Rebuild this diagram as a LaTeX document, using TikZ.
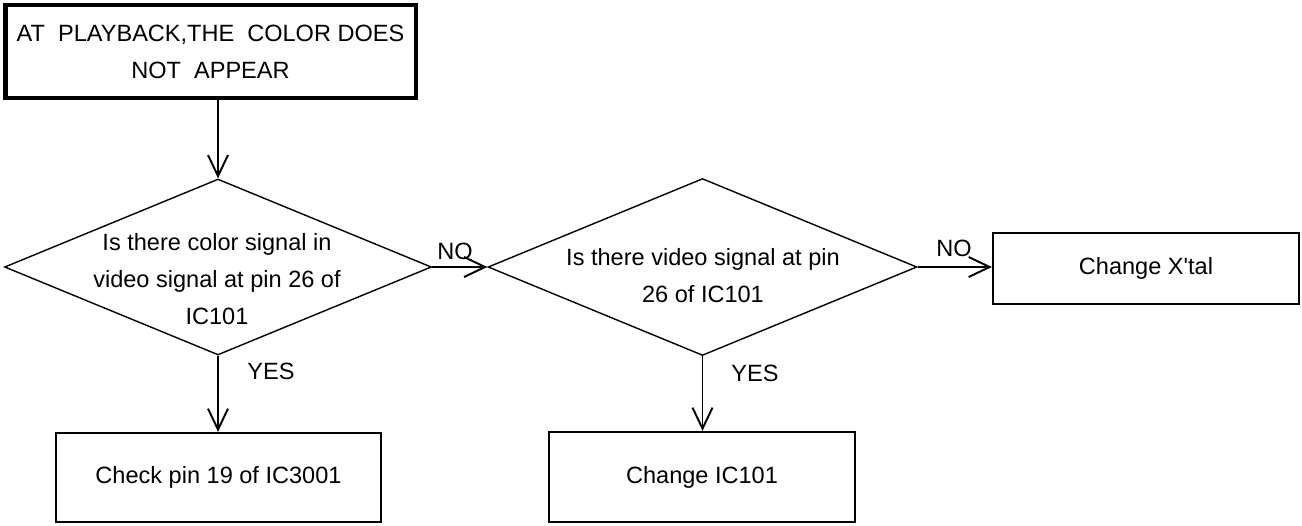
\documentclass[tikz,border=0pt]{standalone}
\usepackage{fontspec}
\setmainfont{Liberation Sans}
\usetikzlibrary{shapes.geometric, arrows.meta}

\begin{document}
\begin{tikzpicture}[
    x=0.02cm, y=-0.02cm,
    font=\fontsize{13.4}{21}\selectfont,
    startbox/.style={rectangle, draw, line width=2.8pt, inner sep=0pt, align=center},
    box/.style={rectangle, draw, line width=1.3pt, inner sep=0pt},
    decision/.style={diamond, draw, line width=0.8pt, inner sep=0pt},
    dtext/.style={align=center, inner sep=0pt},
    lbl/.style={inner sep=0pt},
    line/.style={-{Straight Barb[length=0.42cm, width=0.4cm, line width=1.1pt]}, line width=1.1pt}
]
\useasboundingbox (0,0) rectangle (1302,525);

% Boites
\node[startbox, minimum width=8.22cm, minimum height=1.86cm] (start) at (210.5,51.5) {AT\ \ PLAYBACK,THE\ \ COLOR DOES\\NOT\ \ APPEAR};
\node[decision, minimum width=8.54cm, minimum height=3.52cm] (d1) at (218,267) {};
\node[dtext] (d1t) at (217,279) {Is there color signal in\\video signal at pin 26 of\\IC101};
\node[decision, minimum width=8.58cm, minimum height=3.54cm] (d2) at (702.5,267) {};
\node[dtext] (d2t) at (703,276) {Is there video signal at pin\\26 of IC101};
\node[box, minimum width=6.5cm, minimum height=1.78cm] (b1) at (218.5,477.5) {Check pin 19 of IC3001};
\node[box, minimum width=6.12cm, minimum height=1.8cm] (b2) at (702,477) {Change IC101};
\node[box, minimum width=6.12cm, minimum height=1.42cm] (b3) at (1146,268.5) {Change X\textquotesingle tal};

% Fleches
\draw[line] (start.south -| d1.north) -- (d1.north);
\draw[line] (d1.east) -- (d2.west);
\draw[line] (d2.east) -- (d2.east -| b3.west);
\draw[line] (d1.south) -- (b1.north -| d1.south);
\draw[line] (d2.south) -- (b2.north -| d2.south);

% Reponses
\node[lbl] (no1) at (455,251) {NO};
\node[lbl] (no2) at (954,248) {NO};
\node[lbl] (yes1) at (271,371) {YES};
\node[lbl] (yes2) at (755,373) {YES};

\end{tikzpicture}
\end{document}
